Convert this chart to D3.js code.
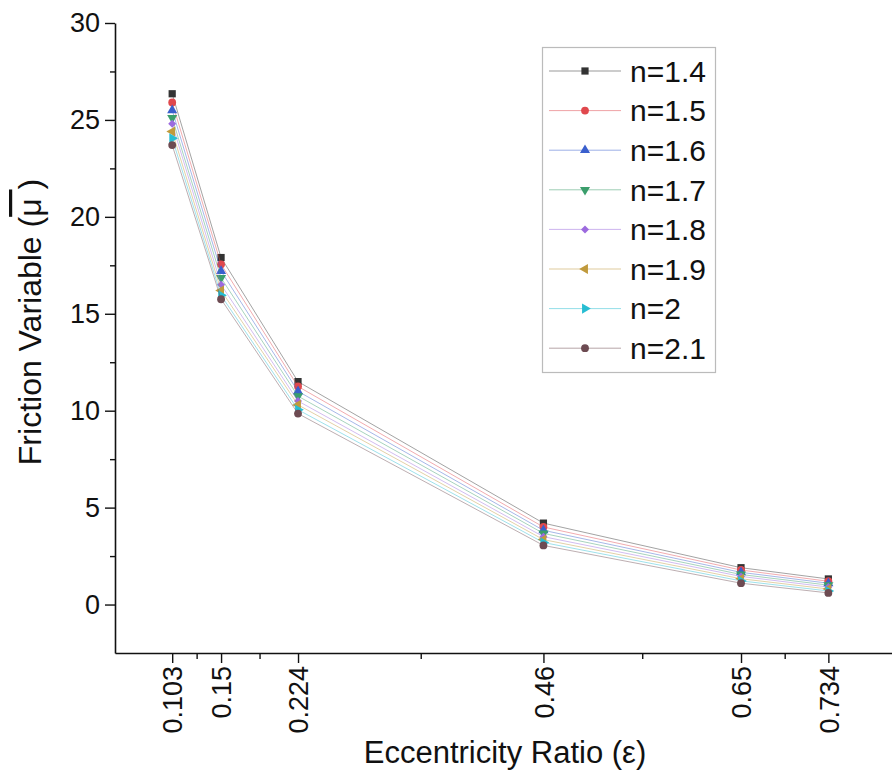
<!DOCTYPE html>
<html>
<head>
<meta charset="utf-8">
<script src="https://cdn.jsdelivr.net/npm/d3@7"></script>
<style>
  html, body { margin: 0; padding: 0; background: #fff; }
  svg text { font-family: "Liberation Sans", Arial, sans-serif; fill: #111; }
</style>
</head>
<body>
<div id="chart"></div>
<script>
// Eccentricity ratio categories (x) and tick labels
const eccentricity = [0.103, 0.15, 0.224, 0.46, 0.65, 0.734];
const xTickLabels = ['0.103', '0.15', '0.224', '0.46', '0.65', '0.734'];
const yTickValues = [0, 5, 10, 15, 20, 25, 30];

// Series names and friction values
const seriesNames = ['n=1.4', 'n=1.5', 'n=1.6', 'n=1.7', 'n=1.8', 'n=1.9', 'n=2', 'n=2.1'];
const n14 = [26.35, 17.9, 11.5, 4.2, 1.9, 1.32];
const n15 = [25.9, 17.55, 11.25, 4.0, 1.78, 1.2];
const n16 = [25.5, 17.2, 11.0, 3.83, 1.66, 1.1];
const n17 = [25.1, 16.85, 10.75, 3.67, 1.55, 1.0];
const n18 = [24.8, 16.5, 10.5, 3.5, 1.45, 0.9];
const n19 = [24.4, 16.2, 10.3, 3.35, 1.33, 0.8];
const n20 = [24.05, 15.95, 10.05, 3.2, 1.22, 0.7];
const n21 = [23.7, 15.75, 9.85, 3.05, 1.1, 0.6];
const seriesValues = [n14, n15, n16, n17, n18, n19, n20, n21];

const colors = ['#333333', '#e0484d', '#3a5fcd', '#3b9e6c', '#9c6ade', '#c09a3c', '#27bdd2', '#6d4b52'];

const width = 892, height = 774;

const svg = d3.select('#chart').append('svg')
  .attr('width', width)
  .attr('height', height);

// Scales
const x = d3.scaleLinear().domain([0.048, 0.8]).range([115, 897]);
const y = d3.scaleLinear().domain([-2.5, 30]).range([653, 23]);

// Marker shapes (Origin style)
const tri = d3.symbol().type(d3.symbolTriangle).size(44)();
const markers = [
  { path: d3.symbol().type(d3.symbolSquare).size(52)(), rot: 0 },
  { path: d3.symbol().type(d3.symbolCircle).size(48)(), rot: 0 },
  { path: tri, rot: 0 },
  { path: tri, rot: 180 },
  { path: d3.symbol().type(d3.symbolSquare).size(32)(), rot: 45 },
  { path: tri, rot: -90 },
  { path: tri, rot: 90 },
  { path: d3.symbol().type(d3.symbolCircle).size(48)(), rot: 0 }
];

// Y axis: major + minor ticks
svg.append('g')
  .attr('transform', `translate(${x(0.048)},0)`)
  .call(d3.axisLeft(y).tickValues(yTickValues).tickSize(10).tickSizeOuter(0).tickPadding(5));

svg.append('g')
  .attr('transform', `translate(${x(0.048)},0)`)
  .call(d3.axisLeft(y).tickValues(yTickValues.slice(0, -1).map(v => v + 2.5)).tickSize(5).tickFormat(''))
  .call(g => g.select('.domain').remove());

// X axis: labelled ticks at the data positions, minor ticks midway
const xAxis = svg.append('g')
  .attr('transform', `translate(0,${y(-2.5)})`)
  .call(d3.axisBottom(x).tickValues(eccentricity).tickSize(10).tickSizeOuter(0)
    .tickFormat((d, i) => xTickLabels[i]));

xAxis.selectAll('.tick text')
  .attr('transform', 'rotate(-90)')
  .attr('text-anchor', 'end')
  .attr('x', -13)
  .attr('y', 0)
  .attr('dy', '0.36em');

const minorX = d3.pairs(eccentricity).map(([a, b]) => (a + b) / 2);
svg.append('g')
  .attr('transform', `translate(0,${y(-2.5)})`)
  .call(d3.axisBottom(x).tickValues(minorX).tickSize(6).tickFormat(''))
  .call(g => g.select('.domain').remove());

svg.selectAll('.domain').attr('stroke', '#111').attr('stroke-width', 1.6);
svg.selectAll('.tick line').attr('stroke', '#111').attr('stroke-width', 1.4);
svg.selectAll('.tick text').attr('font-size', 27).attr('fill', '#111');

// Series lines and markers
const line = d3.line()
  .x((d, i) => x(eccentricity[i]))
  .y(d => y(d));

const seriesGroups = svg.append('g').selectAll('g.series')
  .data(seriesValues)
  .join('g')
  .attr('class', 'series');

seriesGroups.append('path')
  .attr('d', d => line(d))
  .attr('fill', 'none')
  .attr('stroke', (d, i) => colors[i])
  .attr('stroke-opacity', 0.45)
  .attr('stroke-width', 1);

seriesGroups.each(function (vals, si) {
  d3.select(this).selectAll('path.marker')
    .data(vals)
    .join('path')
    .attr('class', 'marker')
    .attr('d', markers[si].path)
    .attr('transform', (d, i) => `translate(${x(eccentricity[i])},${y(d)}) rotate(${markers[si].rot})`)
    .attr('fill', colors[si]);
});

// Axis titles
const yTitle = svg.append('text')
  .attr('transform', 'translate(41,322) rotate(-90)')
  .attr('text-anchor', 'middle')
  .attr('font-size', 32);
yTitle.append('tspan').text('Friction Variable (');
yTitle.append('tspan').style('text-decoration', 'overline').text('\u03BC ');
yTitle.append('tspan').text(')');

svg.append('text')
  .attr('x', 505)
  .attr('y', 763)
  .attr('text-anchor', 'middle')
  .attr('font-size', 31)
  .text('Eccentricity Ratio (\u03B5)');

// Legend
const legend = svg.append('g');
legend.append('rect')
  .attr('x', 542.5)
  .attr('y', 47.5)
  .attr('width', 173)
  .attr('height', 325)
  .attr('fill', '#fff')
  .attr('stroke', '#bbb')
  .attr('stroke-width', 1.2);

const items = legend.selectAll('g.item')
  .data(seriesNames)
  .join('g')
  .attr('class', 'item')
  .attr('transform', (d, i) => `translate(0,${71 + i * 39.6})`);

items.append('line')
  .attr('x1', 549).attr('x2', 621)
  .attr('stroke', (d, i) => colors[i])
  .attr('stroke-opacity', 0.5)
  .attr('stroke-width', 1);

items.append('path')
  .attr('d', (d, i) => markers[i].path)
  .attr('transform', (d, i) => `translate(585,0) rotate(${markers[i].rot})`)
  .attr('fill', (d, i) => colors[i]);

items.append('text')
  .attr('x', 630)
  .attr('dy', '0.36em')
  .attr('font-size', 30)
  .text(d => d);
</script>
</body>
</html>
